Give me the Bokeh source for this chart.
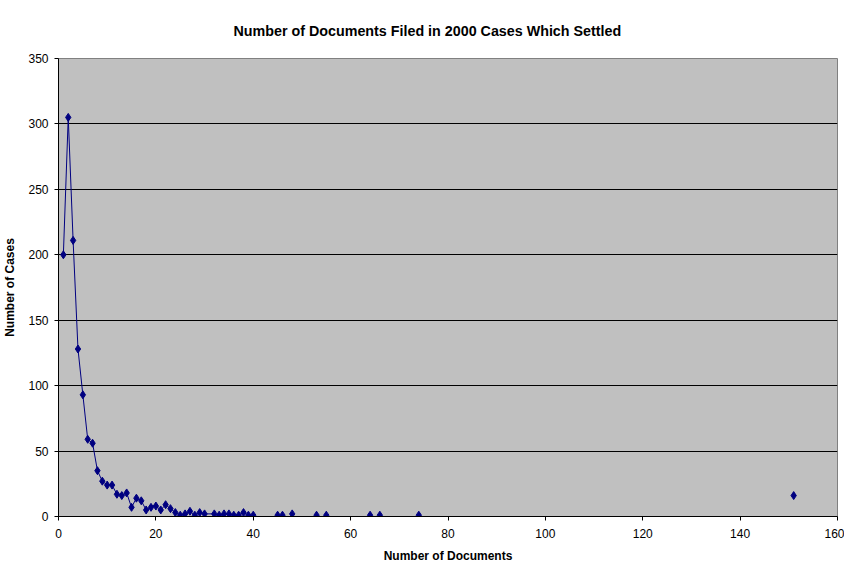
from bokeh.plotting import figure
from bokeh.models import Range1d, FixedTicker, Title
from bokeh.embed import file_html
from bokeh.resources import INLINE

# Data: number of documents vs number of cases
docs = [1, 2, 3, 4, 5, 6, 7, 8, 9, 10, 11, 12, 13, 14, 15, 16, 17, 18, 19, 20,
        21, 22, 23, 24, 25, 26, 27, 28, 29, 30, 32, 33, 34, 35, 36, 37, 38, 39, 40,
        45, 46, 48, 53, 55, 64, 66, 74, 151]
cases = [200, 305, 211, 128, 93, 59, 56, 35, 27, 24, 24, 17, 16, 18, 7, 14, 12, 5, 7, 8,
         5, 9, 6, 3, 1, 2, 4, 1, 3, 2, 2, 1, 2, 2, 1, 1, 3, 1, 1,
         1, 1, 2, 1, 1, 1, 1, 1, 16]

# contiguous run drawn with connecting line
line_docs = docs[:39]
line_cases = cases[:39]

x_ticks = [0, 20, 40, 60, 80, 100, 120, 140, 160]
y_ticks = [0, 50, 100, 150, 200, 250, 300, 350]

TITLE = "Number of Documents Filed in 2000 Cases Which Settled"
FONT = "Liberation Sans"

p = figure(frame_width=779, frame_height=458, output_backend="svg", toolbar_location=None,
           x_range=Range1d(0, 160), y_range=Range1d(0, 350),
           min_border_left=50, min_border_right=7, min_border_top=58, min_border_bottom=34)

p.title = Title(text=TITLE, align="left", text_font=FONT, text_font_size="14.3px",
                text_font_style="bold", text_color="black", offset=175, standoff=40)

p.background_fill_color = "#C0C0C0"
p.border_fill_color = "white"
p.outline_line_color = "#808080"
p.outline_line_width = 1

p.xgrid.grid_line_color = None
p.ygrid.grid_line_color = "black"
p.ygrid.grid_line_width = 1
p.ygrid.ticker = FixedTicker(ticks=y_ticks)

p.xaxis.ticker = FixedTicker(ticks=x_ticks)
p.yaxis.ticker = FixedTicker(ticks=y_ticks)

for ax in (p.xaxis[0], p.yaxis[0]):
    ax.axis_line_color = "black"
    ax.major_tick_line_color = "black"
    ax.minor_tick_line_color = None
    ax.major_tick_out = 4
    ax.major_tick_in = 0
    ax.major_label_text_font = FONT
    ax.major_label_text_font_size = "12px"
    ax.major_label_text_color = "black"
    ax.axis_label_text_font = FONT
    ax.axis_label_text_font_size = "12px"
    ax.axis_label_text_font_style = "bold"
    ax.axis_label_text_color = "black"

p.xaxis.axis_label = "Number of Documents"
p.yaxis.axis_label = "Number of Cases"
p.xaxis.major_label_standoff = 8
p.yaxis.major_label_standoff = 6
p.xaxis.axis_label_standoff = 8
p.yaxis.axis_label_standoff = 8

p.line(line_docs, line_cases, line_color="#000080", line_width=1)
p.scatter(docs, cases, marker="diamond", size=8, fill_color="#000080",
          line_color="#000080")

open("out.html", "w").write(file_html(p, INLINE))
